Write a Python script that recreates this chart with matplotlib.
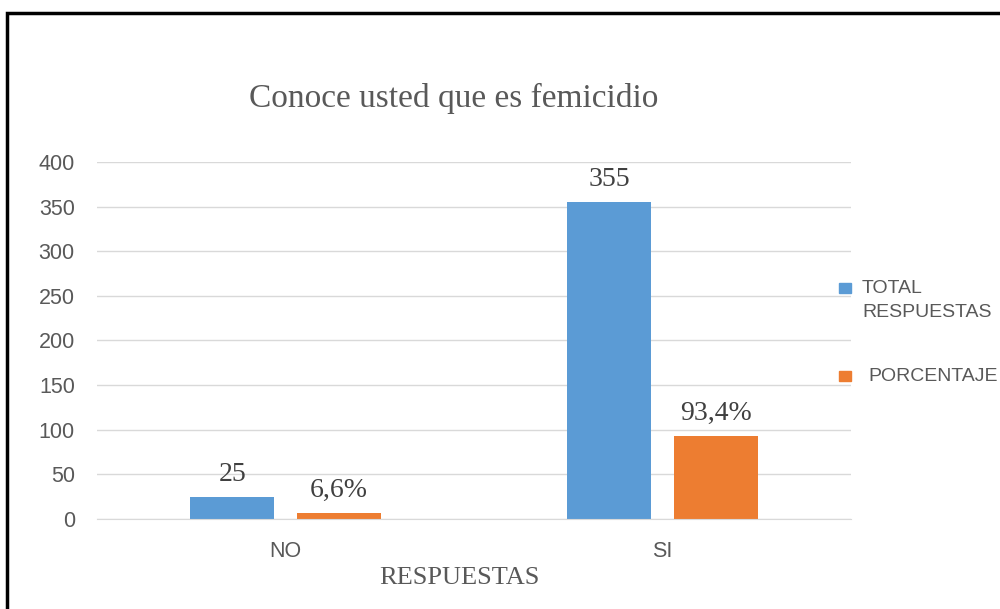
import matplotlib.pyplot as plt
from matplotlib.patches import Rectangle
import numpy as np

c_blue = "#5B9BD5"
c_orange = "#ED7D31"
txt_grey = "#595959"

categorias = ['NO', 'SI']
total_respuestas = [25, 355]
porcentaje = [6.6, 93.4]
etiquetas_total = ['25', '355']
etiquetas_pct = ['6,6%', '93,4%']
series = ['TOTAL\nRESPUESTAS', 'PORCENTAJE']

fig = plt.figure(figsize=(10, 6.09), dpi=100)
ax = fig.add_axes([0.097, 0.1478, 0.754, 0.5862])

x = np.arange(len(categorias))
w = 0.223
off = 0.1415
b1 = ax.bar(x - off, total_respuestas, w, color=c_blue)
b2 = ax.bar(x + off, porcentaje, w, color=c_orange)

for bars, labs in [(b1, etiquetas_total), (b2, etiquetas_pct)]:
    for rect, lab in zip(bars, labs):
        ax.annotate(lab, (rect.get_x() + rect.get_width() / 2, rect.get_height()),
                    xytext=(0, 7), textcoords='offset points', ha='center', va='bottom',
                    fontsize=20, family='Liberation Serif', color='#404040')

ax.set_xlim(-0.5, 1.5)
ax.set_ylim(0, 400)
ax.set_yticks(np.arange(0, 401, 50))
ax.set_xticks(x)
ax.set_xticklabels(categorias)
ax.yaxis.grid(True, color='#D9D9D9', linewidth=1)
ax.set_axisbelow(True)
for s in ['top', 'right', 'left']:
    ax.spines[s].set_visible(False)
ax.spines['bottom'].set_color('#D9D9D9')
ax.tick_params(axis='both', length=0, labelsize=15.5, labelcolor=txt_grey)
ax.tick_params(axis='y', pad=16)
ax.tick_params(axis='x', pad=16)
for t in ax.get_xticklabels() + ax.get_yticklabels():
    t.set_family('Liberation Sans')

fig.text(0.454, 0.839, 'Conoce usted que es femicidio', ha='center', va='center',
         fontsize=24, family='Liberation Serif', color=txt_grey)
fig.text(0.459, 1 - 578 / 609, 'RESPUESTAS', ha='center', va='center',
         fontsize=19, family='Liberation Serif', color=txt_grey)

# legend drawn by hand so the square sits on the first text line
leg_y = [1 - 288 / 609, 1 - 376 / 609]
leg_x_txt = [0.862, 0.868]
for col, lab, yy, xt in zip([c_blue, c_orange], series, leg_y, leg_x_txt):
    fig.patches.append(Rectangle((0.839, yy - 0.009), 0.012, 0.018, color=col,
                                 transform=fig.transFigure, figure=fig))
    fig.text(xt, yy + 0.013, lab, ha='left', va='top', fontsize=14,
             family='Liberation Sans', color=txt_grey, linespacing=1.5)

# chart border
fig.patches.append(Rectangle((0.007, -0.05), 1.1, 1 - 13 / 609 + 0.05, fill=False,
                             edgecolor='black', linewidth=2.5,
                             transform=fig.transFigure, figure=fig))

fig.savefig('out.png', dpi=100)
